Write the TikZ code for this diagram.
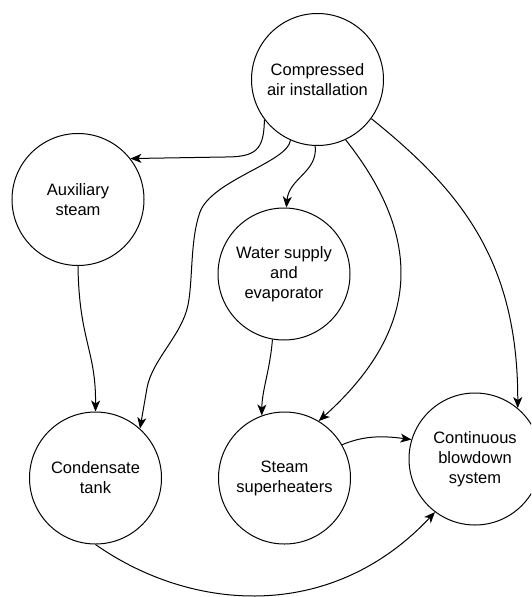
\documentclass[tikz,border=0pt]{standalone}
\usepackage{fontspec}
\setmainfont{Liberation Sans}
\usetikzlibrary{arrows.meta}
\begin{document}
\begin{tikzpicture}[x=1pt,y=-1pt,
  blob/.style={circle,draw,line width=1pt,minimum size=132pt,inner sep=0pt,align=center,
    font=\fontsize{16.5}{20}\selectfont},
  conn/.style={line width=1pt,-{Stealth[length=11pt,width=9pt,inset=3pt]}}]
\useasboundingbox (0,0) rectangle (531,597);
\clip (0,0) rectangle (531,597);
\node[blob] (ca) at (317.5,79.5) {Compressed\\air installation};
\node[blob] (aux) at (78,199.5) {Auxiliary\\steam};
\node[blob] (ws) at (284,274) {Water supply\\and\\evaporator};
\node[blob] (ct) at (95.5,478) {Condensate\\tank};
\node[blob] (ss) at (284.5,478) {Steam\\superheaters};
\node[blob] (cb) at (475,459) {Continuous\\blowdown\\system};
% edges
\draw[conn] (ca.217) .. controls (264,150) and (256,157) .. (225,157) -- (aux.38);
\draw[conn] (ca.246) .. controls (288,162) and (212,180) .. (200,212)
  .. controls (190,240) and (193,280) .. (188,305)
  .. controls (182,335) and (152,360) .. (147,388) -- (ct.48);
\draw[conn] (ca.268) .. controls (318,172) and (289,178) .. (ws.88);
\draw[conn] (ca.295) .. controls (425,240) and (420,330) .. (ss.59);
\draw[conn] (ca.324) .. controls (460,190) and (518,260) .. (cb.50);
\draw[conn] (aux.270) .. controls (79,340) and (96,350) .. (ct.90);
\draw[conn] (ws.260) .. controls (270,370) and (262,390) .. (ss.110);
\draw[conn] (ss.30) .. controls (365,435) and (385,436) .. (cb.163);
\draw[conn] (ct.270) .. controls (190,611) and (330,624) .. (cb.233);
\end{tikzpicture}
\end{document}
